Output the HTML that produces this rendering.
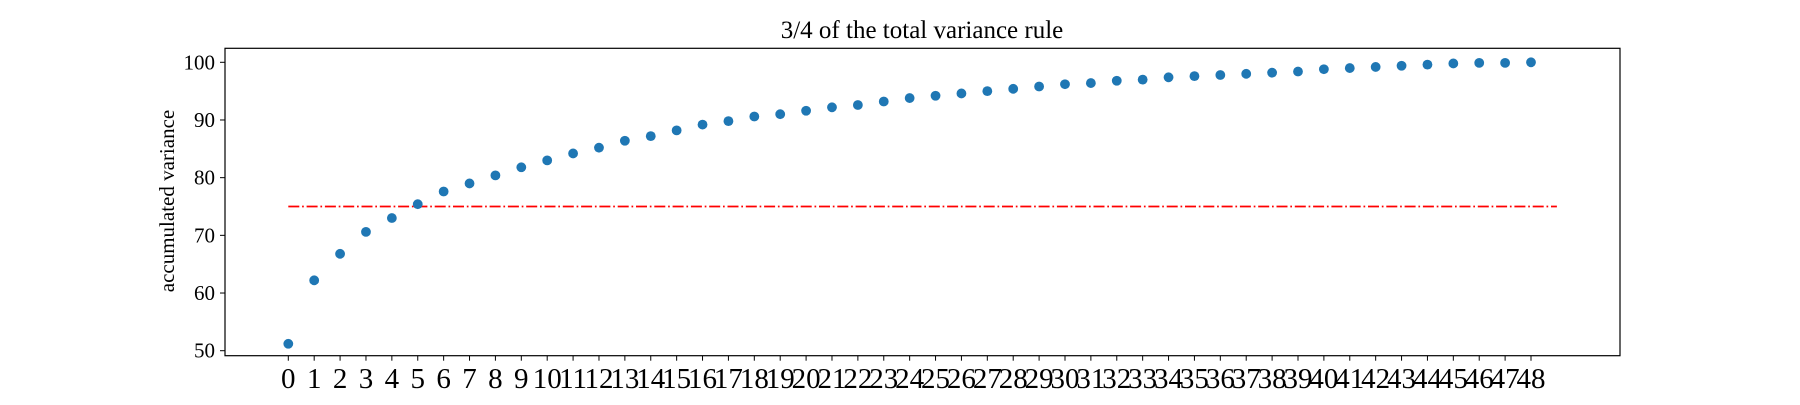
<!DOCTYPE html>
<html><head><meta charset="utf-8"><style>
body{margin:0;background:#fff;}
svg text{font-family:"Liberation Serif","DejaVu Serif",serif;fill:#000;}
</style></head><body>
<svg id="chart" width="1800" height="400" xmlns="http://www.w3.org/2000/svg">
<text x="922" y="38" font-size="25" text-anchor="middle">3/4 of the total variance rule</text>
<text transform="translate(174,201) rotate(-90)" font-size="21" text-anchor="middle">accumulated variance</text>
<g id="marks"></g>
<rect x="225" y="48.3" width="1395" height="307.4" fill="none" stroke="#000" stroke-width="1.2"/>
</svg>
<script>
const categories=[...Array(49).keys()];
const values=[51.2,62.2,66.8,70.6,73,75.4,77.6,79,80.4,81.8,83,84.2,85.2,86.4,87.2,88.2,89.2,89.8,90.6,91,91.6,92.2,92.6,93.2,93.8,94.2,94.6,95,95.4,95.8,96.2,96.4,96.8,97,97.4,97.6,97.8,98,98.2,98.4,98.8,99,99.2,99.4,99.6,99.8,99.9,99.9,100];
const yTicks=[50,60,70,80,90,100];
const threshold=75;
const NS="http://www.w3.org/2000/svg";
const g=document.getElementById('marks');
const xs=i=>288.3+i*(1531-288.3)/48;
const ys=v=>350.7-(v-50)*(350.7-62.3)/50;
function mk(t,a){const e=document.createElementNS(NS,t);for(const k in a)e.setAttribute(k,a[k]);g.appendChild(e);return e;}
yTicks.forEach(v=>{
 const l=mk('line',{x1:220,x2:225,y1:ys(v),y2:ys(v),stroke:'#000'});
 
 
 const t=mk('text',{x:215,y:ys(v)+7,'font-size':21,'text-anchor':'end'});
 t.textContent=v;
 
 
});
categories.forEach(c=>{
 const l=mk('line',{x1:xs(c),x2:xs(c),y1:355.7,y2:360.7,stroke:'#000'});
 
 
 const t=mk('text',{x:xs(c),y:388,'font-size':29,'text-anchor':'middle'});
 t.textContent=c;
 
 
});
const th=mk('line',{x1:xs(0),x2:xs(49),y1:ys(threshold),y2:ys(threshold),stroke:'#ff0000','stroke-width':1.7,'stroke-dasharray':'11,2.8,1.7,2.8'});


categories.forEach((c,i)=>{
 const p=mk('circle',{cx:xs(c),cy:ys(values[i]),r:4.9,fill:'#1f77b4'});
 
 
});
</script>
</body></html>
